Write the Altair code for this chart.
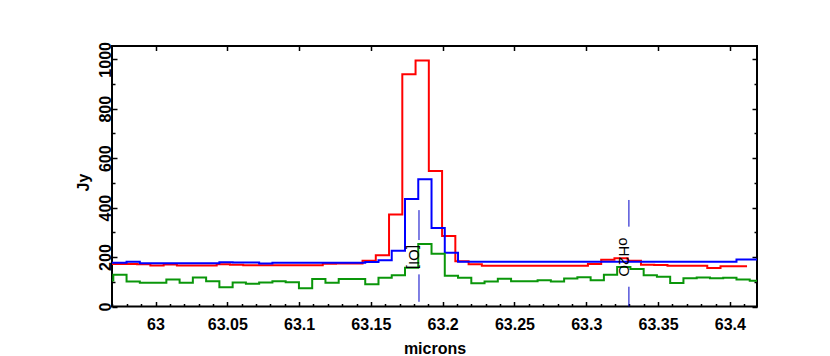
import altair as alt
import pandas as pd

# ---- data (wavelength in microns, flux in Jy) ----
# bin start wavelengths shared by the blue and green spectra (last entry closes the last bin)
grid_lam = [62.96138, 62.97061, 62.97984, 62.98908, 62.99831, 63.00755, 63.01678, 63.02601,
            63.03525, 63.04448, 63.05372, 63.06295, 63.07218, 63.08142, 63.09065, 63.09989,
            63.10912, 63.11835, 63.12759, 63.13682, 63.14606, 63.15529, 63.16452, 63.17376,
            63.18299, 63.19223, 63.20146, 63.21069, 63.21993, 63.22916, 63.23840, 63.24763,
            63.25686, 63.26610, 63.27533, 63.28457, 63.29380, 63.30303, 63.31227, 63.32150,
            63.33074, 63.33997, 63.34920, 63.35844, 63.36767, 63.37691, 63.38614, 63.39537,
            63.40461, 63.41384, 63.42307]
# bin start wavelengths of the red spectrum (last entry closes the last bin)
red_lam = [62.95950, 62.96873, 62.97796, 62.98720, 62.99643, 63.00567, 63.01490, 63.02413,
           63.03337, 63.04260, 63.05184, 63.06107, 63.07030, 63.07954, 63.08877, 63.09801,
           63.10724, 63.11647, 63.12571, 63.13494, 63.14418, 63.15341, 63.16264, 63.17188,
           63.18111, 63.19035, 63.19958, 63.20881, 63.21805, 63.22728, 63.23652, 63.24575,
           63.25498, 63.26422, 63.27345, 63.28269, 63.29192, 63.30115, 63.31039, 63.31962,
           63.32886, 63.33809, 63.34732, 63.35656, 63.36579, 63.37503, 63.38426, 63.39349,
           63.40273, 63.41196]

green_flux = [105, 128, 101, 96, 96, 109, 96, 117, 102, 78, 97, 92, 97, 102, 98, 74,
              111, 96, 111, 111, 90, 116, 126, 157, 253, 213, 124, 116, 94, 101, 112, 102,
              102, 106, 101, 113, 118, 106, 128, 160, 152, 126, 120, 95, 114, 117, 114, 116,
              109, 104]
blue_flux = [177, 177, 181, 175, 175, 175, 175, 175, 175, 179, 178, 178, 174, 177, 177, 177,
             177, 177, 177, 177, 180, 187, 226, 435, 515, 318, 217, 181, 181, 181, 181, 181,
             181, 181, 181, 181, 181, 181, 181, 181, 181, 181, 181, 181, 181, 181, 181, 181,
             190, 190]
red_flux = [172, 172, 172, 171, 166, 170, 166, 166, 166, 171, 169, 167, 167, 167, 167, 167,
            167, 173, 174, 174, 185, 207, 372, 940, 995, 548, 285, 183, 171, 165, 165, 165,
            165, 165, 165, 165, 165, 172, 189, 195, 185, 169, 168, 165, 165, 165, 156, 163,
            163]

# line identifications
ann_lam = [63.1835, 63.3297]
ann_label = ["[OI]", "oH2O"]
ann_y = [200, 200]
seg_lam = [63.1835, 63.1835, 63.3297, 63.3297]
seg_lo = [269, 19, 323, 0]
seg_hi = [390, 130, 431, 80]

# axes
X_DOM = [62.9697, 63.4189]
Y_DOM = [0, 1054]
x_major = [63.0, 63.05, 63.1, 63.15, 63.2, 63.25, 63.3, 63.35, 63.4]
x_minor = [62.97, 62.98, 62.99, 63.0, 63.01, 63.02, 63.03, 63.04, 63.05, 63.06, 63.07, 63.08,
           63.09, 63.1, 63.11, 63.12, 63.13, 63.14, 63.15, 63.16, 63.17, 63.18, 63.19, 63.2,
           63.21, 63.22, 63.23, 63.24, 63.25, 63.26, 63.27, 63.28, 63.29, 63.3, 63.31, 63.32,
           63.33, 63.34, 63.35, 63.36, 63.37, 63.38, 63.39, 63.4, 63.41]
y_major = [0, 200, 400, 600, 800, 1000]
y_minor = [0, 100, 200, 300, 400, 500, 600, 700, 800, 900, 1000]

FONT = "Liberation Sans"
W, H = 645, 260.5


def steps(lams, vals):
    return pd.DataFrame({"lam": lams, "flux": vals + [vals[-1]]})


green_df = steps(grid_lam, green_flux)
blue_df = steps(grid_lam, blue_flux)
red_df = steps(red_lam, red_flux)
seg_df = pd.DataFrame({"lam": seg_lam, "lo": seg_lo, "hi": seg_hi})
ann_df = pd.DataFrame({"lam": ann_lam, "y": ann_y, "label": ann_label})

xs = alt.Scale(domain=X_DOM, nice=False, zero=False)
ys = alt.Scale(domain=Y_DOM, nice=False, zero=False)

tick_x = {"condition": {"test": "abs(datum.value*20 - round(datum.value*20)) < 0.001", "value": 5}, "value": 3}
tick_y = {"condition": {"test": "datum.value % 200 == 0", "value": 5}, "value": 3}

common_tick = dict(labels=False, title="", domain=False, grid=False, ticks=True,
                   tickColor="black", tickWidth=1.5)

ax_x_lab = alt.Axis(orient="bottom", values=x_major, format=".2~f", ticks=False, domain=False,
                    grid=False, labelFont=FONT, labelFontSize=16, labelFontWeight="bold",
                    labelColor="black", labelPadding=10, labelFlush=False, labelOverlap=False,
                    title="microns", titleFont=FONT, titleFontSize=16, titleFontWeight="bold",
                    titleColor="black", titleY=47, titleBaseline="alphabetic")
ax_y_lab = alt.Axis(orient="left", values=y_major, format="d", ticks=False, domain=False,
                    grid=False, labelFont=FONT, labelFontSize=16, labelFontWeight="bold",
                    labelColor="black", labelAngle=270, labelAlign="center",
                    labelBaseline="alphabetic", labelPadding=2, labelFlush=False,
                    labelOverlap=False,
                    title="Jy", titleFont=FONT, titleFontSize=16, titleFontWeight="bold",
                    titleColor="black", titleAngle=270, titleX=-24, titleY=136,
                    titleBaseline="alphabetic", titleAlign="center")

ax_x_bottom_in = alt.Axis(orient="top", offset=-H, values=x_minor, tickSize=tick_x, **common_tick)
ax_y_left_in = alt.Axis(orient="right", offset=-W, values=y_minor, tickSize=tick_y, **common_tick)
ax_x_top_in = alt.Axis(orient="bottom", offset=-H, values=x_major, tickSize=4.5, **common_tick)
ax_y_right_in = alt.Axis(orient="left", offset=-W, values=y_minor, tickSize=tick_y, **common_tick)

red = alt.Chart(red_df).mark_line(interpolate="step-after", color="#ff0000", strokeWidth=2,
                                  clip=True).encode(
    x=alt.X("lam:Q", scale=xs, axis=ax_x_lab),
    y=alt.Y("flux:Q", scale=ys, axis=ax_y_lab),
)
blue = alt.Chart(blue_df).mark_line(interpolate="step-after", color="#0000ff", strokeWidth=2,
                                    clip=True).encode(
    x=alt.X("lam:Q", scale=xs, axis=None),
    y=alt.Y("flux:Q", scale=ys, axis=None),
)
green = alt.Chart(green_df).mark_line(interpolate="step-after", color="#0a960a", strokeWidth=2,
                                      clip=True).encode(
    x=alt.X("lam:Q", scale=xs, axis=None),
    y=alt.Y("flux:Q", scale=ys, axis=None),
)
rules = alt.Chart(seg_df).mark_rule(color="#0000c8", strokeWidth=1).encode(
    x=alt.X("lam:Q", scale=xs, axis=ax_x_bottom_in),
    y=alt.Y("lo:Q", scale=ys, axis=ax_y_left_in),
    y2="hi:Q",
)
texts = alt.Chart(ann_df).mark_text(angle=90, align="center", baseline="middle", dy=4.5,
                                    font=FONT, fontSize=15, color="black").encode(
    x=alt.X("lam:Q", scale=xs, axis=ax_x_top_in),
    y=alt.Y("y:Q", scale=ys, axis=ax_y_right_in),
    text="label:N",
)

chart = alt.layer(red, blue, green, rules, texts).resolve_axis(
    x="independent", y="independent"
).properties(
    width=W, height=H,
    padding={"left": 104, "top": 38, "right": 50, "bottom": 49},
    autosize=alt.AutoSizeParams(type="none"),
).configure_view(stroke="black", strokeWidth=2)

chart.save("out.html", embed_options={"renderer": "svg", "actions": False})
